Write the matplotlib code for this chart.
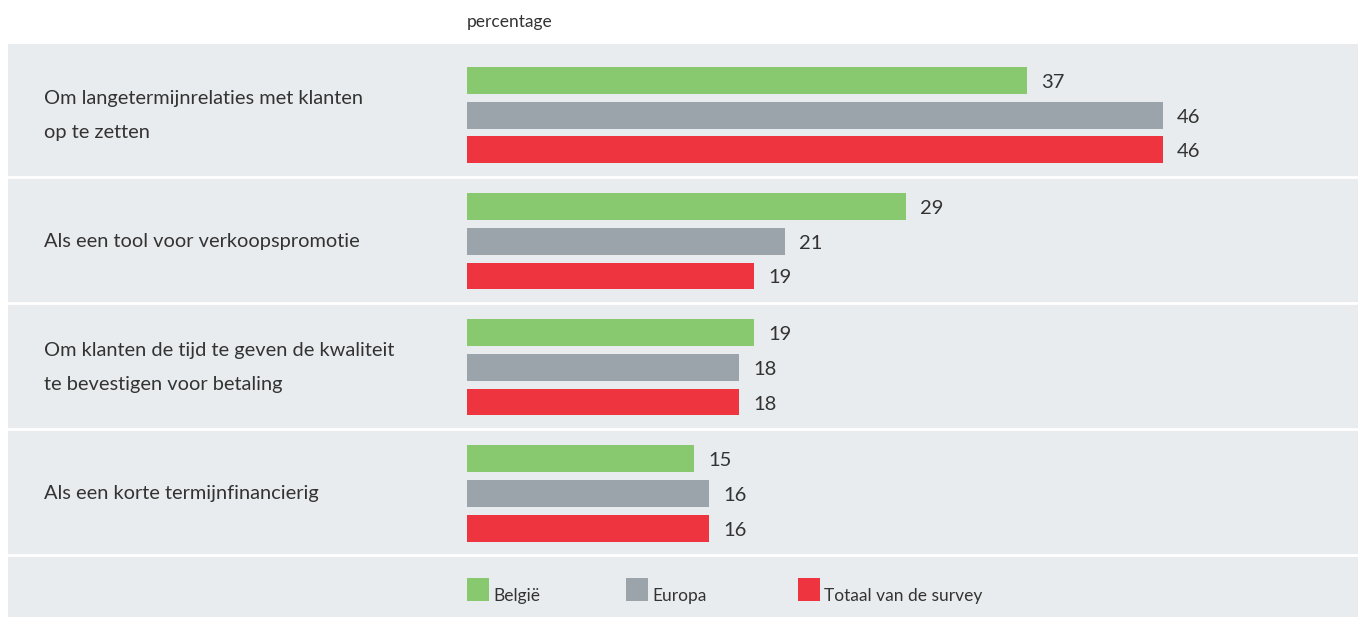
import matplotlib.pyplot as plt
from matplotlib.patches import Rectangle
import numpy as np

categories = ["Om langetermijnrelaties met klanten\nop te zetten",
              "Als een tool voor verkoopspromotie",
              "Om klanten de tijd te geven de kwaliteit\nte bevestigen voor betaling",
              "Als een korte termijnfinancierig"]
belgie = [37, 29, 19, 15]
europa = [46, 21, 18, 16]
totaal = [46, 19, 18, 16]
series_names = ["België", "Europa", "Totaal van de survey"]
colors = ["#88c96f", "#9aa4aa", "#ee353f"]

plt.rcParams['font.family'] = ['Lato', 'DejaVu Sans']
txt = "#333333"
band = "#e9ecef"

W, H = 1358, 617
fig = plt.figure(figsize=(W / 100, H / 100), dpi=100)

# background panel in pixel coordinates
bg = fig.add_axes([0, 0, 1, 1])
bg.set_xlim(0, W)
bg.set_ylim(H, 0)
bg.axis('off')
bg.add_patch(Rectangle((8, 44), W - 8, H - 44, color=band, lw=0))
for y in [177, 303, 429, 555]:
    bg.axhline(y, xmin=8 / W, xmax=1, color="white", lw=2)

bg.text(467, 22, "percentage", fontsize=12.5, color=txt, va='center')

# bars
ax = fig.add_axes([467 / W, (H - 556) / H, (W - 467) / W, 512 / H])
ax.set_xlim(0, (W - 467) / 15.13)
ax.set_ylim(3.496, -0.567)
ax.axis('off')
ax.patch.set_alpha(0)

y = np.arange(len(categories))
off = 0.274
h = 0.214
for vals, dy, c in zip([belgie, europa, totaal], [-off, 0, off], colors):
    ax.barh(y + dy, vals, height=h, color=c)
    for yi, v in zip(y + dy, vals):
        ax.annotate(str(v), (v, yi), xytext=(14, -2), textcoords='offset pixels',
                    va='center', ha='left', fontsize=14.5, color=txt)

for yi, lab in zip(y, categories):
    ax.annotate(lab, (0, yi), xytext=(44 - 467, 0), textcoords='offset pixels',
                va='center', ha='left', fontsize=14.4, color=txt, linespacing=2.25)

# legend
lx = [467, 626, 798]
for x0, name, c in zip(lx, series_names, colors):
    bg.add_patch(Rectangle((x0, 578), 22, 23, color=c, lw=0))
    bg.text(x0 + 26, 596, name, fontsize=12.5, color=txt, va='center')

fig.savefig("out.png", dpi=100)
